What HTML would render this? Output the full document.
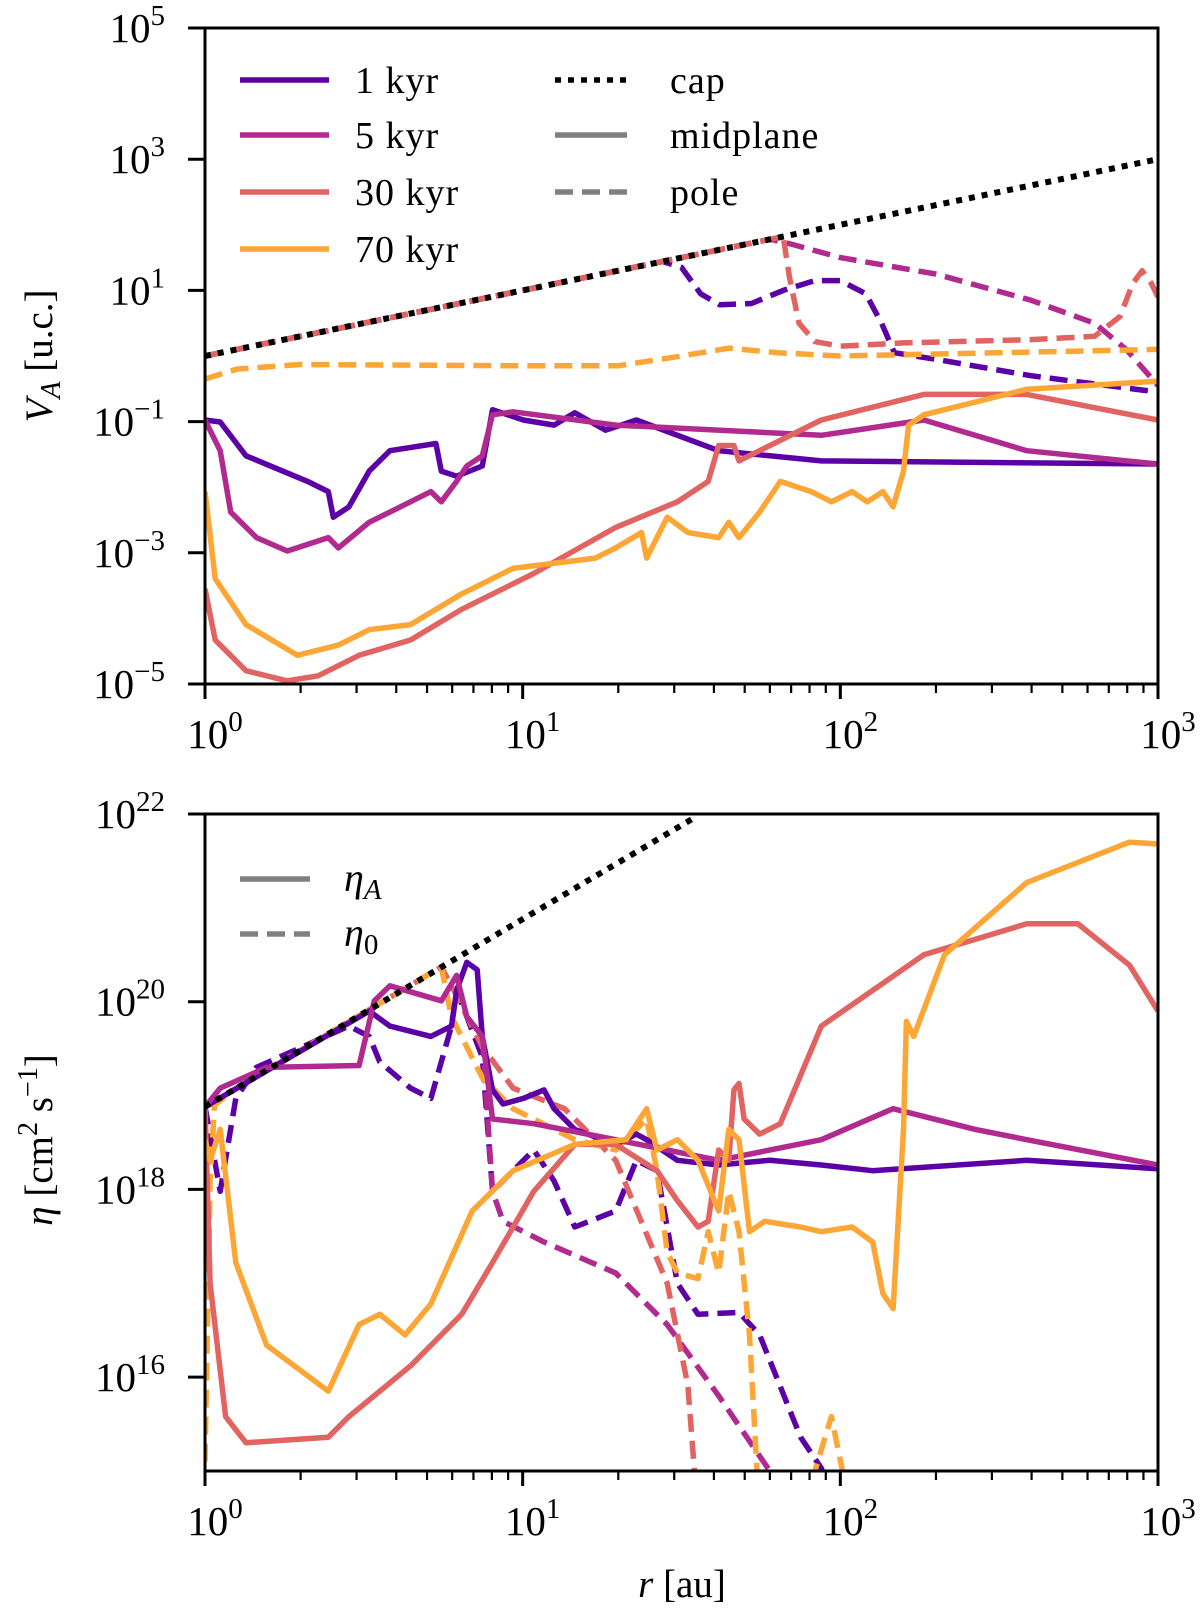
<!DOCTYPE html>
<html><head><meta charset="utf-8"><style>
html,body{margin:0;padding:0;background:#fff;}
svg{display:block;font-family:"Liberation Serif","DejaVu Serif",serif;}
</style></head><body>
<svg id="fig" width="1200" height="1609" viewBox="0 0 1200 1609" xmlns="http://www.w3.org/2000/svg"></svg>
<script>
// ---------- DATA (log10 r, log10 value) ----------
const xTickExps = [0, 1, 2, 3];
const topTickExps = [5, 3, 1, -1, -3, -5];
const botTickExps = [22, 20, 18, 16];
const seriesNames = ["1 kyr", "5 kyr", "30 kyr", "70 kyr"];
const colors = ["#5c01a6", "#b12a90", "#e16462", "#fca636"];

// top panel: V_A
const capTopX = [0, 3];
const capTopY = [0, 3];
const poleX1 = [0,1.44,1.5,1.56,1.62,1.72,1.82,1.92,2.0,2.08,2.13,2.17,2.3,2.6,3.0];
const poleY1 = [0,1.44,1.35,0.95,0.78,0.8,1.0,1.15,1.15,0.95,0.5,0.05,-0.05,-0.3,-0.55];
const poleX5 = [0,1.78,1.85,2.0,2.3,2.6,2.8,2.9,3.0];
const poleY5 = [0,1.78,1.7,1.5,1.25,0.85,0.5,0.1,-0.45];
const poleX30 = [0,1.82,1.84,1.87,1.92,2.0,2.2,2.6,2.8,2.88,2.92,2.95,2.98,3.0];
const poleY30 = [0,1.82,1.2,0.5,0.22,0.15,0.2,0.25,0.3,0.6,1.1,1.3,1.1,0.9];
const poleX70 = [0,0.1,0.3,1.0,1.3,1.5,1.65,1.8,2.0,2.5,3.0];
const poleY70 = [-0.35,-0.2,-0.13,-0.15,-0.15,0.0,0.12,0.05,0.0,0.05,0.1];
const midX1 = [0,.048,.129,.323,.388,.404,.453,.517,.582,.727,.744,.792,.873,.905,1.002,1.099,1.164,1.261,1.358,1.617,1.94,3];
const midY1 = [-0.975,-1.006,-1.521,-1.911,-2.067,-2.457,-2.301,-1.755,-1.443,-1.334,-1.755,-1.833,-1.677,-0.819,-0.975,-1.053,-0.866,-1.131,-0.975,-1.443,-1.599,-1.646];
const midX5 = [0,.048,.081,.162,.259,.388,.42,.517,.647,.711,.744,.792,.824,.873,.905,.97,1.293,1.94,2.263,2.587,3];
const midY5 = [-0.975,-1.443,-2.379,-2.769,-2.972,-2.769,-2.925,-2.535,-2.223,-2.067,-2.223,-1.911,-1.677,-1.521,-0.897,-0.85,-1.053,-1.209,-0.975,-1.443,-1.646];
const midX30 = [0,.032,.129,.259,.356,.485,.647,.808,1.035,1.293,1.487,1.584,1.617,1.665,1.681,1.811,1.94,2.263,2.587,3];
const midY30 = [-3.549,-4.329,-4.797,-4.953,-4.875,-4.563,-4.329,-3.861,-3.315,-2.613,-2.223,-1.911,-1.365,-1.365,-1.599,-1.287,-0.975,-0.585,-0.585,-0.975];
const midX70 = [0,.032,.129,.291,.42,.517,.647,.808,.97,1.229,1.293,1.374,1.39,1.455,1.52,1.617,1.649,1.681,1.746,1.811,1.908,1.972,2.037,2.085,2.134,2.166,2.199,2.215,2.263,2.587,3];
const midY70 = [-2.067,-3.393,-4.095,-4.563,-4.407,-4.173,-4.095,-3.627,-3.237,-3.081,-2.925,-2.691,-3.081,-2.457,-2.691,-2.769,-2.535,-2.769,-2.379,-1.911,-2.067,-2.223,-2.067,-2.223,-2.067,-2.301,-1.755,-1.053,-0.897,-0.507,-0.382];

// bottom panel: eta
const capBotX = [0, 1.55];
const capBotY = [18.88, 21.98];
const etaAX1 = [0,.517,.582,.711,.776,.792,.824,.857,.873,.905,.938,1.002,1.067,1.099,1.164,1.293,1.358,1.39,1.487,1.617,1.778,1.94,2.102,2.587,3];
const etaAY1 = [18.88,19.90,19.74,19.63,19.74,20.12,20.42,20.34,19.63,19.06,18.91,18.97,19.06,18.86,18.64,18.48,18.59,18.53,18.31,18.26,18.31,18.26,18.20,18.31,18.22];
const etaAX5 = [0,.048,.194,.485,.533,.582,.744,.792,.824,.873,.905,1.035,1.293,1.617,1.94,2.166,2.425,2.587,3];
const etaAY5 = [18.88,19.08,19.30,19.32,20.01,20.17,20.01,20.28,19.84,19.63,18.75,18.70,18.53,18.31,18.53,18.86,18.64,18.53,18.26];
const etaAX30 = [0,.016,.065,.129,.388,.453,.647,.808,.905,1.035,1.164,1.293,1.423,1.487,1.552,1.584,1.617,1.649,1.665,1.681,1.697,1.746,1.811,1.94,2.263,2.587,2.748,2.91,3];
const etaAY30 = [18.9,17.0,15.58,15.30,15.36,15.58,16.12,16.67,17.22,17.98,18.48,18.48,18.20,17.88,17.60,17.66,18.42,18.31,19.06,19.13,18.75,18.59,18.70,19.74,20.50,20.83,20.83,20.39,19.90];
const etaAX70 = [0,.016,.048,.097,.194,.388,.485,.55,.63,.711,.841,.97,1.164,1.326,1.39,1.423,1.487,1.552,1.617,1.649,1.681,1.714,1.762,1.875,1.94,2.037,2.102,2.134,2.166,2.199,2.208,2.231,2.328,2.587,2.91,3];
const etaAY70 = [18.53,18.31,18.64,17.22,16.34,15.85,16.56,16.67,16.45,16.78,17.77,18.20,18.48,18.53,18.86,18.42,18.53,18.31,17.77,18.64,18.53,17.55,17.66,17.60,17.55,17.60,17.44,16.89,16.73,18.64,19.79,19.63,20.50,21.27,21.70,21.68];
const eta0X1 = [0,.048,.097,.162,.453,.517,.55,.647,.711,.776,.792,.824,.873,.905,1.035,1.099,1.164,1.293,1.358,1.423,1.487,1.552,1.681,1.746,1.875,1.94,2.0];
const eta0Y1 = [18.88,17.98,18.97,19.30,19.74,19.63,19.36,19.08,18.97,19.74,20.12,19.84,19.41,17.98,18.42,18.09,17.60,17.77,18.31,18.20,17.0,16.67,16.69,16.45,15.36,15.03,14.5];
const eta0X5 = [.824,.873,.905,.938,1.067,1.293,1.455,1.617,1.778,1.85];
const eta0Y5 = [19.84,19.63,17.98,17.66,17.44,17.11,16.56,15.80,15.0,14.2];
const eta0X30 = [0,.744,.776,.873,.97,1.132,1.293,1.455,1.52,1.552];
const eta0Y30 = [18.88,20.37,20.17,19.52,19.08,18.86,18.31,17.0,15.91,14.5];
const eta0X70 = [0,.016,.03,.1,.744,.776,.873,.97,1.164,1.293,1.39,1.423,1.455,1.487,1.552,1.584,1.617,1.649,1.681,1.714,1.746,1.875,1.972,2.037];
const eta0Y70 = [15.1,18.1,18.9,19.08,20.37,19.84,19.19,18.86,18.53,18.42,18.75,18.20,17.33,17.11,17.05,17.55,17.11,17.98,17.55,16.45,14.5,14.5,15.58,14.5];

// ---------- RENDER ----------
const NS = "http://www.w3.org/2000/svg";
const svg = document.getElementById("fig");
function mk(tag, attrs, parent) {
  const e = document.createElementNS(NS, tag);
  for (const k in attrs) e.setAttribute(k, attrs[k]);
  (parent || svg).appendChild(e);
  return e;
}
const L = 205, R = 1158;
const sx = lx => L + (lx - 0) / 3 * (R - L);
const topAx = {t: 28, b: 684, ymax: 5, ymin: -5};
const botAx = {t: 814, b: 1471, ymax: 22, ymin: 15};
const syF = ax => ly => ax.t + (ax.ymax - ly) / (ax.ymax - ax.ymin) * (ax.b - ax.t);
const syTop = syF(topAx), syBot = syF(botAx);

let clipN = 0;
function panel(ax, name) {
  const g = mk("g", {});
  
  
  const id = "clip" + (clipN++);
  const cp = mk("clipPath", {id: id}, g);
  mk("rect", {x: L, y: ax.t, width: R - L, height: ax.b - ax.t}, cp);
  const plot = mk("g", {"clip-path": "url(#" + id + ")"}, g);
  return {g, plot};
}
function line(parent, xs, ys, sy, color, dash, width, name) {
  let d = "";
  for (let i = 0; i < xs.length; i++) d += (i ? "L" : "M") + sx(xs[i]).toFixed(1) + "," + sy(ys[i]).toFixed(1);
  const p = mk("path", {d: d, fill: "none", stroke: color, "stroke-width": width, "stroke-linejoin": "round"}, parent);
  if (dash === "dash") p.setAttribute("stroke-dasharray", "18 9");
  if (dash === "dot") p.setAttribute("stroke-dasharray", "6 7");
  
  
  return p;
}
function pow10(parent, x, y, exp, anchor, name) {
  const t = mk("text", {x: x, y: y, "font-size": 41, "text-anchor": anchor, fill: "#000"}, parent);
  
  
  const a = mk("tspan", {}, t); a.textContent = "10";
  const b = mk("tspan", {dy: -17, "font-size": 29}, t);
  b.textContent = exp < 0 ? "\u2212" + (-exp) : String(exp);
  return t;
}
function axes(ax, ticks, g, sy) {
  const fr = mk("rect", {x: L, y: ax.t, width: R - L, height: ax.b - ax.t, fill: "none", stroke: "#000", "stroke-width": 3}, g);
  
  
  for (let e = 0; e <= 3; e++) {
    mk("line", {x1: sx(e), x2: sx(e), y1: ax.b, y2: ax.b + 15, stroke: "#000", "stroke-width": 3}, g);
    if (e < 3) for (let m = 2; m <= 9; m++) {
      const xx = sx(e + Math.log10(m));
      mk("line", {x1: xx, x2: xx, y1: ax.b, y2: ax.b + 9, stroke: "#000", "stroke-width": 2.2}, g);
    }
  }
  xTickExps.forEach(e => {
    pow10(g, sx(e) + 10, ax.b + 64, e, "middle", "x-tick-label");
  });
  ticks.forEach(e => {
    const y = sy(e);
    mk("line", {x1: L - 17, x2: L, y1: y, y2: y, stroke: "#000", "stroke-width": 3}, g);
    pow10(g, 165, y + 14, e, "end", "y-tick-label");
  });
}

const lw = 5.5;
// top panel
const tp = panel(topAx, "va-panel");
line(tp.plot, poleX1, poleY1, syTop, colors[0], "dash", lw, "pole-1kyr");
line(tp.plot, poleX5, poleY5, syTop, colors[1], "dash", lw, "pole-5kyr");
line(tp.plot, poleX30, poleY30, syTop, colors[2], "dash", lw, "pole-30kyr");
line(tp.plot, poleX70, poleY70, syTop, colors[3], "dash", lw, "pole-70kyr");
line(tp.plot, midX1, midY1, syTop, colors[0], "solid", lw, "midplane-1kyr");
line(tp.plot, midX5, midY5, syTop, colors[1], "solid", lw, "midplane-5kyr");
line(tp.plot, midX30, midY30, syTop, colors[2], "solid", lw, "midplane-30kyr");
line(tp.plot, midX70, midY70, syTop, colors[3], "solid", lw, "midplane-70kyr");
line(tp.plot, capTopX, capTopY, syTop, "#000", "dot", 6, "cap-line");
axes(topAx, topTickExps, tp.g, syTop);

// top legend
const leg = mk("g", {});  
const rowsY = [80, 135, 192, 249];
seriesNames.forEach((n, i) => {
  const l = mk("line", {x1: 240, x2: 329, y1: rowsY[i], y2: rowsY[i], stroke: colors[i], "stroke-width": 5.5}, leg);
   
  const t = mk("text", {x: 355, y: rowsY[i] + 13, "font-size": 38, "letter-spacing": 1}, leg); t.textContent = n;
   
});
const l2 = [["cap", "#000", "6 7"], ["midplane", "#808080", ""], ["pole", "#808080", "18 9"]];
l2.forEach((s, i) => {
  const l = mk("line", {x1: 555, x2: 627, y1: rowsY[i], y2: rowsY[i], stroke: s[1], "stroke-width": 5.5}, leg);
  if (s[2]) l.setAttribute("stroke-dasharray", s[2]);
   
  const t = mk("text", {x: 670, y: rowsY[i] + 13, "font-size": 38, "letter-spacing": 1}, leg); t.textContent = s[0];
   
});

// bottom panel
const bp = panel(botAx, "eta-panel");
line(bp.plot, eta0X1, eta0Y1, syBot, colors[0], "dash", lw, "eta0-1kyr");
line(bp.plot, eta0X5, eta0Y5, syBot, colors[1], "dash", lw, "eta0-5kyr");
line(bp.plot, eta0X30, eta0Y30, syBot, colors[2], "dash", lw, "eta0-30kyr");
line(bp.plot, eta0X70, eta0Y70, syBot, colors[3], "dash", lw, "eta0-70kyr");
line(bp.plot, etaAX1, etaAY1, syBot, colors[0], "solid", lw, "etaA-1kyr");
line(bp.plot, etaAX5, etaAY5, syBot, colors[1], "solid", lw, "etaA-5kyr");
line(bp.plot, etaAX30, etaAY30, syBot, colors[2], "solid", lw, "etaA-30kyr");
line(bp.plot, etaAX70, etaAY70, syBot, colors[3], "solid", lw, "etaA-70kyr");
line(bp.plot, capBotX, capBotY, syBot, "#000", "dot", 6, "cap-line-eta");
axes(botAx, botTickExps, bp.g, syBot);

const leg2 = mk("g", {});  
[["A", ""], ["0", "18 9"]].forEach((s, i) => {
  const y = [879, 934][i];
  const l = mk("line", {x1: 240, x2: 310, y1: y, y2: y, stroke: "#808080", "stroke-width": 5.5}, leg2);
  if (s[1]) l.setAttribute("stroke-dasharray", s[1]);
   
  const t = mk("text", {x: 344, y: y + 12, "font-size": 40, "font-style": "italic"}, leg2);
   
  const a = mk("tspan", {}, t); a.textContent = "\u03b7";
  const b = mk("tspan", {dy: 8, "font-size": 29, "font-style": s[0] === "A" ? "italic" : "normal"}, t); b.textContent = s[0];
});

// axis titles
const yt1 = mk("text", {x: 0, y: 0, "font-size": 39, "text-anchor": "middle", transform: "translate(52,356) rotate(-90)"});
 
yt1.innerHTML = '<tspan font-style="italic">V</tspan><tspan font-style="italic" font-size="28" dy="8">A</tspan><tspan dy="-8"> [u.c.]</tspan>';
const yt2 = mk("text", {x: 0, y: 0, "font-size": 39, "text-anchor": "middle", transform: "translate(52,1140) rotate(-90)"});
 
yt2.innerHTML = '<tspan font-style="italic">\u03b7</tspan> [cm<tspan font-size="28" dy="-15">2</tspan><tspan dy="15"> s</tspan><tspan font-size="28" dy="-15">\u22121</tspan><tspan dy="15">]</tspan>';
const xt = mk("text", {x: 682, y: 1597, "font-size": 39, "text-anchor": "middle"});
 
xt.innerHTML = '<tspan font-style="italic">r</tspan> [au]';
</script>
</body></html>
